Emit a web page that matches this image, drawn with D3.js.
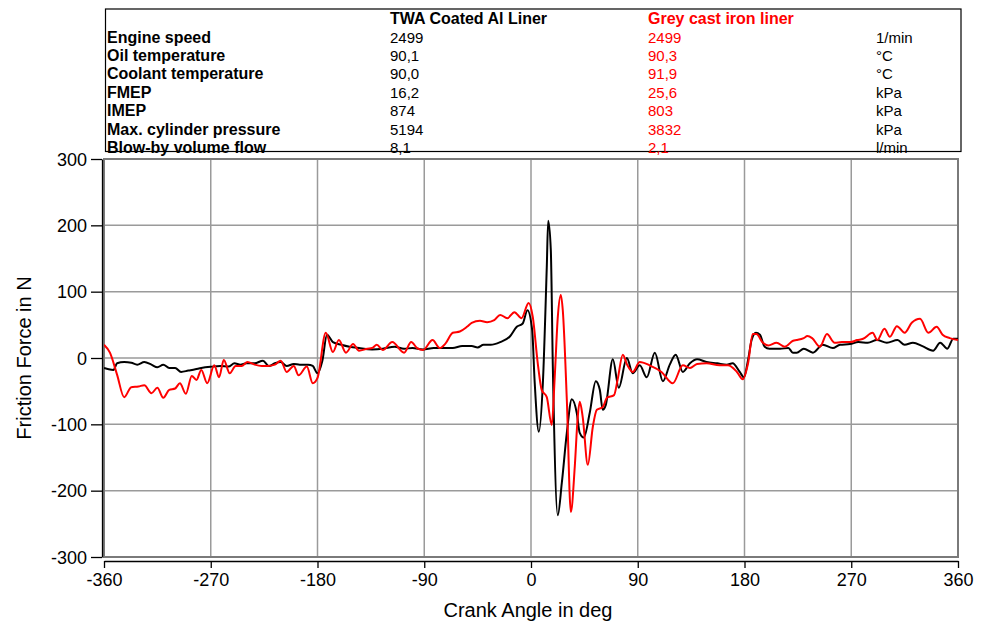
<!DOCTYPE html>
<html><head><meta charset="utf-8">
<script src="https://cdn.jsdelivr.net/npm/d3@7"></script>
<style>
html,body{margin:0;padding:0;background:#fff;}
svg{display:block;font-family:"Liberation Sans",Arial,sans-serif;}
</style></head>
<body><svg id="chart" width="988" height="623"></svg>
<script>
// ---- data ----
const seriesNames = ["TWA Coated Al Liner", "Grey cast iron liner"];
const seriesColors = ["#000000", "#ff0000"];
const rowLabels = ["Engine speed","Oil temperature","Coolant temperature","FMEP","IMEP","Max. cylinder pressure","Blow-by volume flow"];
const twaValues = ["2499","90,1","90,0","16,2","874","5194","8,1"];
const greyValues = ["2499","90,3","91,9","25,6","803","3832","2,1"];
const units = ["1/min","°C","°C","kPa","kPa","kPa","l/min"];
const xTicks = [-360,-270,-180,-90,0,90,180,270,360];
const yTicks = [-300,-200,-100,0,100,200,300];
const xTitle = "Crank Angle in deg";
const yTitle = "Friction Force in N";

// [crank angle deg, friction force N]
const twaData = [[-360,-15],[-356,-17],[-352,-18],[-349,-8],[-343,-6],[-337,-7],[-332,-10],[-326,-6],[-320,-10],[-315,-14],[-310,-10],[-305,-15],[-300,-15],[-295,-21],[-289,-19],[-283,-17],[-278,-15],[-269,-13],[-262,-12],[-255,-13],[-250,-8],[-245,-10],[-240,-8],[-233,-8],[-226,-4],[-221,-12],[-216,-8],[-211,-6],[-206,-12],[-200,-9],[-195,-10],[-188,-10],[-184,-12],[-180,-23],[-176,-5],[-172,35],[-167,24],[-160,20],[-153,17],[-145,15],[-134,13],[-125,14],[-115,17],[-107,14],[-100,15],[-91,13],[-82,15],[-75,15],[-66,15],[-58,18],[-50,18],[-45,16],[-40,20],[-34,20],[-26,24],[-18,32],[-12,47],[-7,52],[-3,72],[1,42],[3,-33],[6.6,-111],[10,-38],[13.3,137],[14.5,207],[16.7,163],[18.4,-13],[22.6,-237],[26,-188],[30.2,-113],[34.4,-62],[38.6,-83],[41.1,-113],[44.5,-120],[49.5,-83],[54.6,-35],[58,-48],[60.5,-78],[63,-71],[69,-2],[74,-45],[80.8,0],[85.8,-23],[91.7,-11],[97.6,-29],[104.4,8],[111.2,-35],[117,-10],[122,5],[128,-21],[134,-8],[140,-2],[148,-6],[157,-8],[165,-10],[170,-8],[176,-21],[179.5,-29],[183,-3],[186,27],[189.6,38],[193,35],[197,17],[201,14],[210,14],[217,15],[220.8,8],[224,8],[230,14],[237.7,8],[246,20],[254.5,15],[260.5,20],[269,21],[276,24],[284,23],[291.6,27],[300,23],[309,27],[315,20],[322,23],[330,18],[339,11],[345,23],[351,14],[356,29],[360,29]];

const greyData = [[-360,20],[-355,8],[-349,-25],[-343,-59],[-337,-44],[-331,-43],[-326,-41],[-320,-53],[-315,-45],[-310,-60],[-305,-48],[-300,-46],[-296,-38],[-291,-54],[-286,-27],[-282,-33],[-278,-18],[-273,-38],[-267,-11],[-263,-29],[-259,-3],[-254,-23],[-249,-12],[-244,-12],[-239,-6],[-233,-10],[-227,-12],[-222,-12],[-216,-10],[-211,-4],[-206,-21],[-200,-12],[-196,-26],[-189,-13],[-184,-38],[-180,-30],[-173,38],[-167,9],[-162,27],[-156,8],[-150,21],[-145,11],[-138,14],[-134,15],[-130,20],[-125,12],[-117,24],[-107,8],[-101,24],[-96,15],[-91,12],[-83,27],[-77,15],[-72,22],[-66,38],[-60,40],[-54,47],[-50,53],[-43,56],[-37,54],[-31,57],[-26,65],[-20,60],[-14,69],[-8,60],[-2,83],[1.5,62],[5.7,-8],[9,-48],[13.3,-59],[17.5,-101],[20,-29],[22.6,62],[25.1,95],[26.8,72],[30.2,-63],[33.6,-232],[36.9,-164],[39.4,-89],[41.1,-66],[43.6,-89],[47.9,-161],[52.1,-104],[55.5,-78],[60.5,-74],[64,-60],[70,-56],[73,-33],[77.4,5],[81,-10],[85.8,-21],[91.7,-6],[100,-11],[110,-21],[119.6,-38],[128,-11],[134,-15],[140,-9],[148,-8],[159,-11],[166,-11],[173.6,-21],[178.6,-32],[183,-8],[187,36],[190,36],[195.5,23],[200,19],[207,23],[214,17],[221,26],[224,27],[230,30],[233,33],[237,30],[243.6,17],[249.5,36],[256,23],[262,24],[269,24],[275,27],[280,29],[288,38],[292,27],[298,44],[302.6,32],[308.5,48],[315,38],[321,53],[328,59],[335,38],[342,47],[347,35],[353,30],[360,27]];

// ---- layout ----
const svg = d3.select("#chart");
const plot = {left:104, right:958, top:159, bottom:557};
const x = d3.scaleLinear().domain([-360,360]).range([plot.left, plot.right]);
const y = d3.scaleLinear().domain([-300,300]).range([plot.bottom, plot.top]);

// grid
const grid = svg.append("g");
grid.selectAll("line.vx").data(xTicks.slice(1,-1)).join("line")
  .attr("x1",d=>x(d)).attr("x2",d=>x(d)).attr("y1",plot.top).attr("y2",plot.bottom)
  .attr("stroke","#9a9a9a").attr("stroke-width",1.5);
grid.selectAll("line.hy").data(yTicks.slice(1,-1)).join("line")
  .attr("y1",d=>y(d)).attr("y2",d=>y(d)).attr("x1",plot.left).attr("x2",plot.right)
  .attr("stroke","#9a9a9a").attr("stroke-width",1.5);
svg.append("rect").attr("x",plot.left).attr("y",plot.top)
  .attr("width",plot.right-plot.left).attr("height",plot.bottom-plot.top)
  .attr("fill","none").attr("stroke","#7a7a7a").attr("stroke-width",2);

// lines
const line = d3.line().x(d=>x(d[0])).y(d=>y(d[1])).curve(d3.curveMonotoneX);
svg.append("clipPath").attr("id","pc").append("rect")
  .attr("x",plot.left).attr("y",plot.top).attr("width",plot.right-plot.left).attr("height",plot.bottom-plot.top);
[twaData, greyData].forEach((data,i)=>{
  svg.append("path").datum(data).attr("d",line).attr("fill","none")
    .attr("clip-path","url(#pc)")
    .attr("stroke",seriesColors[i]).attr("stroke-width",2).attr("stroke-linejoin","round");
});

// axes
const fmt = d => String(d);
const yAxis = d3.axisLeft(y).tickValues(yTicks).tickFormat(fmt).tickSizeInner(11).tickSizeOuter(0).tickPadding(4);
const gy = svg.append("g").attr("transform","translate(102,0)").call(yAxis);
const xAxis = d3.axisBottom(x).tickValues(xTicks).tickFormat(fmt).tickSizeInner(7).tickSizeOuter(0).tickPadding(5);
const gx = svg.append("g").attr("transform","translate(0,561)").call(xAxis);
[gx,gy].forEach(g=>{
  g.selectAll("path.domain").attr("stroke","#000").attr("stroke-width",1.3);
  g.selectAll(".tick line").attr("stroke","#000").attr("stroke-width",1.3);
  g.selectAll("text").attr("font-size",18).attr("fill","#000").attr("font-family","'Liberation Sans',Arial,sans-serif");
});
gy.selectAll("text").attr("dy","0.34em");

svg.append("text").attr("x",528).attr("y",617).attr("text-anchor","middle")
  .attr("font-size",20).text(xTitle);
svg.append("text").attr("transform","translate(31,358) rotate(-90)").attr("text-anchor","middle")
  .attr("font-size",20).text(yTitle);

// table
svg.append("rect").attr("x",105.5).attr("y",9).attr("width",855.5).attr("height",142.5)
  .attr("fill","none").attr("stroke","#000").attr("stroke-width",1.2);
const colX = [107, 390, 648, 876];
const rowY = d3.range(rowLabels.length).map(i=>42.5 + i*18.4);
const tbl = svg.append("g").attr("font-size",16);
tbl.append("text").attr("x",colX[1]).attr("y",24).attr("font-weight","bold").attr("fill",seriesColors[0]).text(seriesNames[0]);
tbl.append("text").attr("x",colX[2]).attr("y",24).attr("font-weight","bold").attr("fill",seriesColors[1]).text(seriesNames[1]);
rowLabels.forEach((lab,i)=>{
  tbl.append("text").attr("x",colX[0]).attr("y",rowY[i]).attr("font-weight","bold").text(lab);
  tbl.append("text").attr("x",colX[1]).attr("y",rowY[i]).attr("font-size",15).text(twaValues[i]);
  tbl.append("text").attr("x",colX[2]).attr("y",rowY[i]).attr("font-size",15).attr("fill",seriesColors[1]).text(greyValues[i]);
  tbl.append("text").attr("x",colX[3]).attr("y",rowY[i]).attr("font-size",15).text(units[i]);
});
</script>
</body></html>
